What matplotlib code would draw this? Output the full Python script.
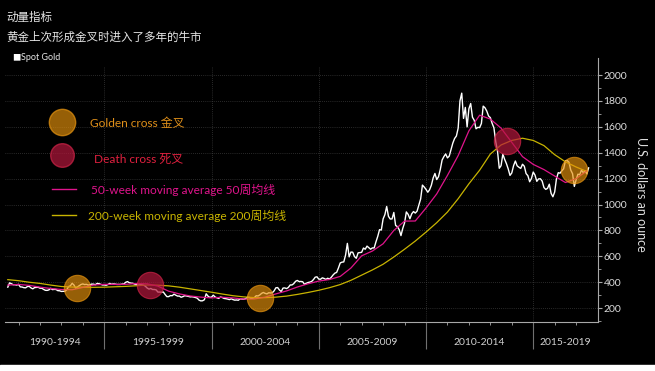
import numpy as np
import matplotlib
matplotlib.use("Agg")
import matplotlib.pyplot as plt
from matplotlib.transforms import blended_transform_factory

plt.rcParams['font.family'] = ['Lato', 'Noto Sans CJK SC', 'DejaVu Sans']

# ---- data ----
title = "动量指标"
subtitle = "黄金上次形成金叉时进入了多年的牛市"
series_name = "Spot Gold"
y_label = "U.S. dollars an ounce"

# spot gold, monthly, Jul 1990 .. Aug 2017
gold_start = 1990.5
spot_gold = [
    362, 395, 389, 381, 381, 378,                                   # 1990
    384, 364, 363, 358, 357, 367, 368, 356, 349, 359, 360, 361,     # 1991
    354, 354, 345, 338, 337, 341, 353, 343, 345, 344, 335, 334,     # 1992
    329, 330, 330, 342, 367, 372, 392, 379, 355, 364, 374, 383,     # 1993
    387, 382, 384, 378, 381, 386, 385, 381, 391, 389, 384, 379,     # 1994
    379, 377, 382, 391, 385, 387, 386, 383, 383, 383, 386, 387,     # 1995
    400, 405, 396, 393, 392, 385, 383, 387, 383, 381, 378, 369,     # 1996
    355, 347, 352, 344, 344, 341, 324, 324, 323, 325, 306, 289,     # 1997
    289, 297, 296, 308, 300, 293, 293, 284, 289, 296, 294, 291,     # 1998
    287, 288, 286, 282, 277, 262, 256, 257, 265, 311, 293, 283,     # 1999
    285, 300, 286, 280, 275, 286, 282, 275, 273, 270, 266, 272,     # 2000
    266, 262, 263, 261, 272, 270, 268, 273, 283, 283, 276, 276,     # 2001
    282, 296, 294, 302, 314, 321, 314, 310, 319, 317, 319, 333,     # 2002
    357, 359, 340, 328, 355, 356, 351, 360, 379, 379, 389, 407,     # 2003
    414, 405, 406, 404, 384, 392, 398, 401, 406, 420, 439, 442,     # 2004
    424, 423, 434, 429, 422, 431, 424, 438, 456, 470, 476, 510,     # 2005
    549, 555, 557, 610, 700, 596, 633, 632, 598, 585, 627, 629,     # 2006
    631, 664, 655, 679, 667, 655, 665, 665, 712, 754, 806, 803,     # 2007
    889, 922, 985, 909, 888, 889, 939, 839, 829, 806, 760, 816,     # 2008
    858, 943, 924, 890, 928, 946, 934, 949, 996, 1043, 1150, 1135,  # 2009
    1117, 1095, 1114, 1149, 1205, 1240, 1193, 1215, 1271, 1343, 1370, 1391,  # 2010
    1360, 1374, 1424, 1474, 1510, 1529, 1590, 1800, 1860, 1665, 1750, 1600,  # 2011
    1740, 1780, 1674, 1650, 1585, 1596, 1594, 1626, 1760, 1747, 1722, 1684,  # 2012
    1671, 1627, 1593, 1487, 1414, 1280, 1300, 1390, 1349, 1316, 1275, 1225,  # 2013
    1244, 1300, 1336, 1299, 1288, 1279, 1311, 1296, 1239, 1223, 1176, 1201,  # 2014
    1251, 1227, 1179, 1198, 1199, 1181, 1131, 1117, 1125, 1157, 1086, 1060,  # 2015
    1097, 1199, 1246, 1242, 1260, 1276, 1337, 1340, 1326, 1266, 1238, 1140,  # 2016
    1192, 1234, 1231, 1266, 1246, 1260, 1237, 1283,                          # 2017
]

# moving averages, read every half year from 1990.5
ma_start = 1990.5
ma50 = [378, 383, 376, 362, 352, 344, 342, 360, 378, 384,
        383, 384, 390, 388, 370, 331, 310, 294, 285, 279,
        284, 279, 270, 271, 285, 310, 333, 363, 388, 409,
        421, 445, 510, 604, 641, 697, 800, 872, 873, 973,
        1082, 1225, 1378, 1569, 1690, 1660, 1590, 1480, 1370, 1310,
        1270, 1220, 1170, 1200, 1260]
ma200 = [420, 412, 400, 391, 378, 367, 363, 362, 361, 362,
         365, 368, 373, 379, 377, 372, 362, 349, 336, 323,
         309, 296, 287, 281, 281, 285, 293, 306, 321, 338,
         358, 382, 415, 455, 495, 539, 595, 655, 718, 787,
         860, 942, 1045, 1160, 1265, 1390, 1460, 1495, 1512, 1495,
         1455, 1385, 1330, 1290, 1255]

golden_x = [1993.73, 2002.26, 2016.9]
golden_y = [355, 278, 1266]
death_x = [1997.13, 2013.8]
death_y = [378, 1490]

period_edges = [1995, 2000, 2005, 2010, 2015]
period_labels = ["1990-1994", "1995-1999", "2000-2004", "2005-2009", "2010-2014", "2015-2019"]

legend_texts = ["Golden cross 金叉", "Death cross 死叉",
                "50-week moving average 50周均线", "200-week moving average 200周均线"]

# ---- colours ----
BG = "black"
GOLD_C = "#e8930c"
DEATH_C = "#b5183c"
MAGENTA = "#e0148c"
YELLOW = "#c8b400"
GREY = "#a8a8a8"

W, H = 655, 371
def fx(px):
    return px / W
def fy(py):
    return 1 - py / H

fig = plt.figure(figsize=(6.55, 3.71), dpi=100, facecolor=BG)
ax = fig.add_axes([fx(5), fy(322), fx(598) - fx(5), fy(67) - fy(322)], facecolor=BG)

x_gold = gold_start + np.arange(len(spot_gold)) / 12
x_ma = ma_start + np.arange(len(ma50)) / 2

ax.plot(x_ma, ma200, color=YELLOW, lw=0.9, zorder=3)
ax.plot(x_ma, ma50, color=MAGENTA, lw=0.9, zorder=4)
ax.plot(x_gold, spot_gold, color="white", lw=1.0, zorder=2)

ax.plot(golden_x, golden_y, 'o', ms=19, color=GOLD_C, alpha=0.65,
        mec="#f09a10", mew=0.8, zorder=5, linestyle="none")
ax.plot(death_x, death_y, 'o', ms=19, color=DEATH_C, alpha=0.7,
        mec="#d02448", mew=0.8, zorder=5, linestyle="none")

ax.set_xlim(1990.37, 2018.02)
ax.set_ylim(93, 2062)

# grid
for e in period_edges:
    ax.axvline(e, color="#505050", lw=0.5, ls=(0, (1, 2)), zorder=1)
for v in range(200, 2001, 200):
    ax.axhline(v, color="#505050", lw=0.5, ls=(0, (1, 2)), zorder=1)

# spines / ticks
for s in ["top", "left"]:
    ax.spines[s].set_visible(False)
ax.spines["right"].set_color(GREY)
ax.spines["bottom"].set_color(GREY)
ax.spines["right"].set_linewidth(0.8)
ax.spines["bottom"].set_linewidth(0.8)
ax.spines["right"].set_bounds(93, 2130)

ax.yaxis.tick_right()
ax.set_yticks(range(200, 2001, 200))
ax.set_yticks(range(100, 2001, 100), minor=True)
ax.tick_params(axis="y", which="major", colors=GREY, labelcolor="#dddddd",
               length=3, width=0.8, labelsize=7.5, pad=1)
ax.tick_params(axis="y", which="minor", colors=GREY, length=2, width=0.6)

ax.set_xticks(period_edges)
ax.set_xticklabels([])
ax.set_xticks(range(1991, 2018), minor=True)
ax.tick_params(axis="x", which="major", colors="#707070", length=19.5, width=0.8)
ax.tick_params(axis="x", which="minor", colors=GREY, length=2, width=0.6)

ax.text(1.072, 0.5, y_label, transform=ax.transAxes, rotation=-90,
        ha="center", va="center", color="#dddddd", fontsize=9)

# period labels centred on the visible span
lo, hi = ax.get_xlim()
bounds = [lo] + period_edges + [hi]
trans = blended_transform_factory(ax.transData, ax.transAxes)
for i, lab in enumerate(period_labels):
    ax.text((bounds[i] + bounds[i + 1]) / 2, -0.082, lab, transform=trans,
            ha="center", va="center", color="#d0d0d0", fontsize=7.5)

# titles
fig.text(fx(6), fy(17), title, color="#e6e6e6", fontsize=8.3, va="center", ha="left")
fig.text(fx(6), fy(37), subtitle, color="#e6e6e6", fontsize=8.3, va="center", ha="left")
fig.text(fx(12), fy(58), "■", color="white", fontsize=6, va="center", ha="left")
fig.text(fx(21), fy(58), series_name, color="#e6e6e6", fontsize=6.5, va="center", ha="left")

# legend drawn inside the plot
fig.lines.append(plt.Line2D([fx(62)], [fy(122)], marker="o", ms=19, color=GOLD_C,
                            alpha=0.65, mec="#f09a10", transform=fig.transFigure))
fig.lines.append(plt.Line2D([fx(62)], [fy(155)], marker="o", ms=17, color=DEATH_C,
                            alpha=0.7, mec="#d02448", transform=fig.transFigure))
fig.lines.append(plt.Line2D([fx(52), fx(76)], [fy(189), fy(189)], color=MAGENTA,
                            lw=1, transform=fig.transFigure))
fig.lines.append(plt.Line2D([fx(52), fx(76)], [fy(215), fy(215)], color=YELLOW,
                            lw=1, transform=fig.transFigure))
fig.text(fx(90), fy(123), legend_texts[0], color="#e0901a", fontsize=8.6, va="center")
fig.text(fx(94), fy(159), legend_texts[1], color="#e0203f", fontsize=8.6, va="center")
fig.text(fx(91), fy(190), legend_texts[2], color=MAGENTA, fontsize=8.6, va="center")
fig.text(fx(88), fy(216), legend_texts[3], color=YELLOW, fontsize=8.6, va="center")

# white strip at the very bottom of the screenshot
fig.patches.append(plt.Rectangle((0, 0), 1, fy(365), color="white",
                                 transform=fig.transFigure, zorder=-1))

fig.savefig("out.png", dpi=100, facecolor=BG)
